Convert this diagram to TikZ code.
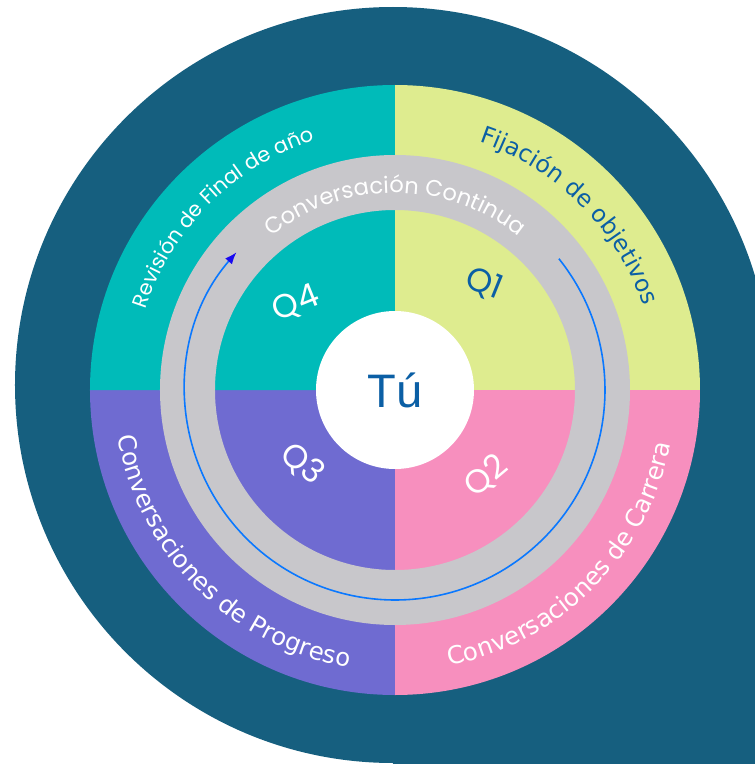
\documentclass[tikz,border=0pt]{standalone}
\usepackage{fontspec}
\setmainfont{DejaVu Sans}
\newfontfamily\popfont{Poppins}
\newfontfamily\libfont{Liberation Sans}
\usetikzlibrary{decorations.text,arrows.meta}
\definecolor{bgblue}{RGB}{22,95,127}
\definecolor{qteal}{RGB}{0,187,185}
\definecolor{qlime}{RGB}{222,236,143}
\definecolor{qpink}{RGB}{247,143,190}
\definecolor{qpurple}{RGB}{111,107,209}
\definecolor{ringgray}{RGB}{200,199,203}
\definecolor{textblue}{RGB}{11,95,165}
\definecolor{arcblue}{RGB}{10,120,255}
\definecolor{tipblue}{RGB}{25,10,240}
\begin{document}
\begin{tikzpicture}[x=1pt,y=1pt,
  qlab/.style={font=\popfont\fontsize{33pt}{33pt}\selectfont, text=white, inner sep=0pt},
  tulab/.style={font=\libfont\fontsize{47pt}{47pt}\selectfont, text=textblue, inner sep=0pt}]
\useasboundingbox (-395pt,-374pt) rectangle (360pt,390pt);
\fill[white] (-395pt,-374pt) rectangle (360pt,390pt);
% background
\fill[bgblue] (-2pt,5pt) circle[radius=378pt];
\fill[bgblue] (-2pt,5pt) rectangle (360pt,-374pt);
% quadrants
\fill[qlime] (0pt,0pt) -- (0pt,305pt) arc[start angle=90,end angle=0,radius=305pt] -- cycle;
\fill[qpink] (0pt,0pt) -- (305pt,0pt) arc[start angle=0,end angle=-90,radius=305pt] -- cycle;
\fill[qpurple] (0pt,0pt) -- (0pt,-305pt) arc[start angle=-90,end angle=-180,radius=305pt] -- cycle;
\fill[qteal] (0pt,0pt) -- (-305pt,0pt) arc[start angle=180,end angle=90,radius=305pt] -- cycle;
% gray ring
\fill[ringgray, even odd rule] (0pt,0pt) circle[radius=235pt] (0pt,0pt) circle[radius=180pt];
% white centre
\fill[white] (0pt,0pt) circle[radius=79pt];
% outer labels
\path[decorate,decoration={text along path,text align=center,text color=white,
  text={|\popfont\fontsize{20.7pt}{20.7pt}\selectfont|Revisión de Final de año}}]
  (180:262pt) arc[start angle=180,end angle=90,radius=262pt];
\path[decorate,decoration={text along path,text align=center,text color=textblue,
  text={|\fontsize{23.5pt}{23.5pt}\selectfont|Fijación de objetivos}}]
  (90:262pt) arc[start angle=90,end angle=0,radius=262pt];
\path[decorate,decoration={text along path,text align=center,text color=white,
  text={|\fontsize{24.5pt}{24.5pt}\selectfont|Conversaciones de Carrera}}]
  (-90:281pt) arc[start angle=-90,end angle=0,radius=281pt];
\path[decorate,decoration={text along path,text align=center,text color=white,
  text={|\fontsize{24.5pt}{24.5pt}\selectfont|Conversaciones de Progreso}}]
  (180:281pt) arc[start angle=180,end angle=270,radius=281pt];
% ring label
\path[decorate,decoration={text along path,text align=center,text color=white,
  text={|\popfont\fontsize{22.6pt}{22.6pt}\selectfont|Conversación Continua}}]
  (170:197pt) arc[start angle=170,end angle=10,radius=197pt];
% blue arc
\draw[arcblue, line width=1.6pt, -{Latex[length=12pt,width=9pt,color=tipblue]}]
  (38.7:210pt) arc[start angle=38.7,end angle=-221,radius=210pt];
% quarter labels
\node[qlab, text=textblue, rotate=-22] (q1) at (89pt,106pt) {Q1};
\node[qlab, rotate=40] (q2) at (91pt,-86pt) {Q2};
\node[qlab, rotate=-40] (q3) at (-93pt,-74pt) {Q3};
\node[qlab, rotate=22] (q4) at (-99pt,86pt) {Q4};
\node[tulab] (tu) at (0pt,0pt) {Tú};
\end{tikzpicture}
\end{document}
